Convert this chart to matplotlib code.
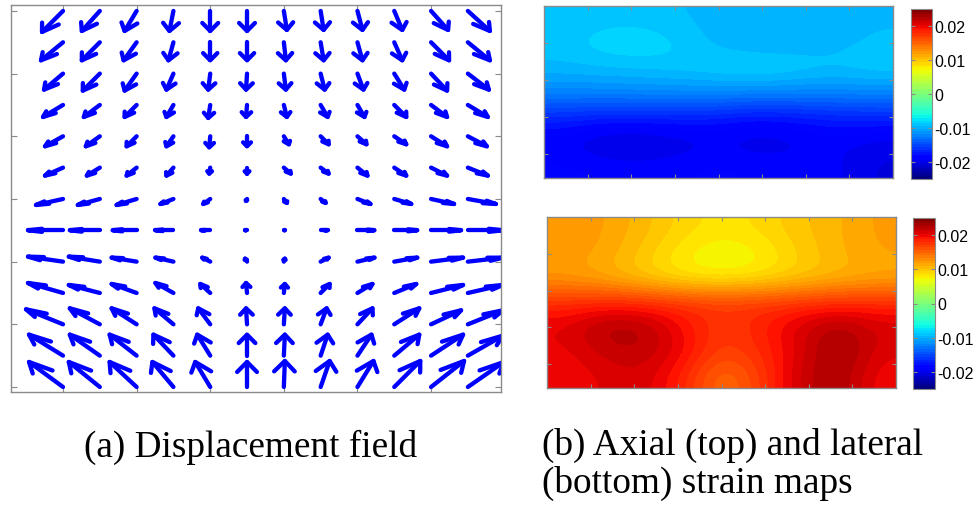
import numpy as np
import matplotlib
matplotlib.use("Agg")
import matplotlib.pyplot as plt
import matplotlib.transforms as mtransforms

# displacement field: one row per depth (top to bottom), one column per lateral position
# u is to the right, v is upward, both in screen pixels
U_DISP = [
    [-21, -18, -12, -4, 0, 0, 3, 3, 5, 8, 17, 22],
    [-22, -18, -13, -5, 0, 0, 2, 3, 5, 8, 18, 22],
    [-19, -17, -12, -7, -2, -1, 2, 4, 6, 10, 16, 21],
    [-20, -16, -12, -7, -2, -1, 3, 7, 7, 12, 16, 20],
    [-18, -14, -10, -7, -1, 0, 5, 8, 9, 12, 16, 19],
    [-18, -13, -10, -7, -1, 0, 7, 8, 10, 12, 16, 20],
    [-27, -22, -20, -13, -7, -1, 3, 5, 13, 17, 23, 28],
    [-35, -30, -24, -18, -9, -2, 1, 7, 17, 23, 30, 35],
    [-35, -31, -25, -18, -8, -2, 1, 8, 17, 23, 32, 35],
    [-35, -31, -25, -18, -10, -1, 1, 9, 15, 22, 32, 35],
    [-37, -30, -25, -19, -12, -1, 1, 6, 15, 25, 30, 35],
    [-34, -30, -27, -20, -13, 0, 1, 7, 14, 25, 32, 35],
    [-34, -31, -27, -21, -15, 0, 1, 9, 16, 26, 33, 36],
]
V_DISP = [
    [-21, -20, -20, -20, -20, -20, -19, -19, -19, -19, -19, -20],
    [-18, -18, -18, -18, -18, -18, -18, -18, -18, -18, -18, -18],
    [-16, -17, -17, -16, -16, -16, -16, -16, -16, -16, -17, -16],
    [-12, -12, -12, -12, -13, -12, -12, -12, -12, -12, -12, -12],
    [-10, -10, -10, -10, -11, -10, -8, -8, -8, -8, -10, -10],
    [-8, -8, -8, -8, -6, -6, -6, -6, -8, -8, -8, -8],
    [-6, -6, -6, -5, -5, -2, -4, -4, -5, -5, -5, -5],
    [0, 0, 0, 0, 0, 0, 0, 0, 0, 0, 0, 0],
    [5, 5, 4, 4, 4, 3, 3, 4, 4, 4, 4, 4],
    [10, 8, 9, 10, 9, 10, 9, 9, 9, 9, 8, 8],
    [15, 16, 16, 16, 16, 16, 16, 16, 16, 16, 14, 14],
    [21, 21, 21, 21, 21, 21, 21, 21, 21, 21, 21, 20],
    [25, 25, 25, 25, 25, 25, 26, 26, 26, 26, 26, 25],
]

# strain maps, rows top to bottom, columns left to right
AXIAL_STRAIN = [
    [-0.0092, -0.0090, -0.0090, -0.0093, -0.0098, -0.0100, -0.0100, -0.0098, -0.0095],
    [-0.0088, -0.0080, -0.0078, -0.0085, -0.0098, -0.0105, -0.0103, -0.0098, -0.0092],
    [-0.0095, -0.0092, -0.0090, -0.0088, -0.0082, -0.0078, -0.0083, -0.0090, -0.0085],
    [-0.0118, -0.0118, -0.0116, -0.0115, -0.0115, -0.0116, -0.0118, -0.0118, -0.0116],
    [-0.0165, -0.0170, -0.0170, -0.0168, -0.0172, -0.0180, -0.0175, -0.0170, -0.0168],
    [-0.0195, -0.0210, -0.0212, -0.0205, -0.0198, -0.0205, -0.0200, -0.0192, -0.0200],
    [-0.0185, -0.0188, -0.0190, -0.0188, -0.0185, -0.0188, -0.0190, -0.0192, -0.0205],
]
LATERAL_STRAIN = [
    [0.0125, 0.0118, 0.0105, 0.0090, 0.0082, 0.0088, 0.0100, 0.0108, 0.0120],
    [0.0122, 0.0115, 0.0098, 0.0078, 0.0068, 0.0075, 0.0095, 0.0108, 0.0118],
    [0.0120, 0.0110, 0.0095, 0.0080, 0.0075, 0.0082, 0.0095, 0.0105, 0.0112],
    [0.0180, 0.0185, 0.0183, 0.0178, 0.0175, 0.0176, 0.0178, 0.0183, 0.0182],
    [0.0205, 0.0228, 0.0225, 0.0195, 0.0170, 0.0185, 0.0210, 0.0228, 0.0210],
    [0.0200, 0.0215, 0.0220, 0.0200, 0.0165, 0.0180, 0.0205, 0.0238, 0.0205],
    [0.0195, 0.0205, 0.0210, 0.0185, 0.0140, 0.0170, 0.0215, 0.0232, 0.0195],
]

CBAR_TICKS = [-0.02, -0.01, 0, 0.01, 0.02]
CBAR_LABELS = ["-0.02", "-0.01", "0", "0.01", "0.02"]
CAPTION_A = "(a) Displacement field"
CAPTION_B = ["(b) Axial (top) and lateral", "(bottom) strain maps"]

W, H = 974, 506
GRAY = "#8a8a8a"
CMAP = plt.get_cmap("jet", 64)


def px_axes(fig, left, top, right, bottom):
    return fig.add_axes([left / W, 1 - bottom / H, (right - left) / W, (bottom - top) / H])


def box_ticks(ax):
    ax.tick_params(which="both", direction="in", length=4, color=GRAY,
                   top=True, right=True, labelleft=False, labelbottom=False)
    for s in ax.spines.values():
        s.set_color(GRAY)
        s.set_linewidth(1.0)


def draw_arrow(ax, x, y, u, v, alpha=0.4, beta=0.33, k=3.0):
    # matlab-style open head, offsets in pixels from the grid point
    trans = mtransforms.Affine2D() + mtransforms.ScaledTranslation(x, y, ax.transData)
    h1 = (u - alpha * (u + beta * k * v), v - alpha * (v - beta * u / k))
    h2 = (u - alpha * (u - beta * k * v), v - alpha * (v + beta * u / k))
    kw = dict(transform=trans, color="#0000ff", lw=3.1,
              solid_capstyle="round", solid_joinstyle="round")
    ax.plot([0, u], [0, v], **kw)
    ax.plot([h1[0], u, h2[0]], [h1[1], v, h2[1]], **kw)


def strain_map(fig, box, cbox, data):
    ax = px_axes(fig, *box)
    im = ax.imshow(np.array(data), cmap=CMAP, vmin=-0.025, vmax=0.025,
                   interpolation="bicubic", extent=(0, 8, 4.65, 0), aspect="auto")
    ax.set_xticks(range(1, 8))
    ax.set_yticks([1, 2, 3, 4])
    box_ticks(ax)
    ax.tick_params(length=3)
    cax = px_axes(fig, *cbox)
    cb = fig.colorbar(im, cax=cax, ticks=CBAR_TICKS)
    cb.ax.set_yticklabels(CBAR_LABELS, family="Liberation Sans")
    cb.outline.set_edgecolor(GRAY)
    cb.ax.tick_params(direction="in", length=3, color=GRAY, labelsize=11.5,
                      pad=1.5, left=True, right=True)
    return ax


fig = plt.figure(figsize=(W / 100, H / 100), dpi=100)

# (a) displacement field
ax = px_axes(fig, 11, 6, 501, 393)
ax.set_autoscale_on(False)
ax.set_xlim(-1.413, 11.90)
ax.set_ylim(12.16, -0.19)
U = np.array(U_DISP)
V = np.array(V_DISP)
for i in range(U.shape[0]):
    for j in range(U.shape[1]):
        draw_arrow(ax, j, i, U[i, j], V[i, j])
ax.set_xticks(range(0, 12, 2))
ax.set_yticks(range(0, 13, 2))
box_ticks(ax)

# (b) axial and lateral strain
strain_map(fig, (544, 7, 893, 179), (911, 10, 932, 180), AXIAL_STRAIN)
strain_map(fig, (547, 218, 896, 389), (913, 219, 935, 390), LATERAL_STRAIN)

serif = dict(family="Liberation Serif", fontsize=26.8, va="baseline")
fig.text(251 / W, 1 - 457 / H, CAPTION_A, ha="center", **serif)
fig.text(542 / W, 1 - 455 / H, CAPTION_B[0], ha="left", **serif)
fig.text(542 / W, 1 - 493 / H, CAPTION_B[1], ha="left", **serif)

fig.savefig("out.png", dpi=100)
